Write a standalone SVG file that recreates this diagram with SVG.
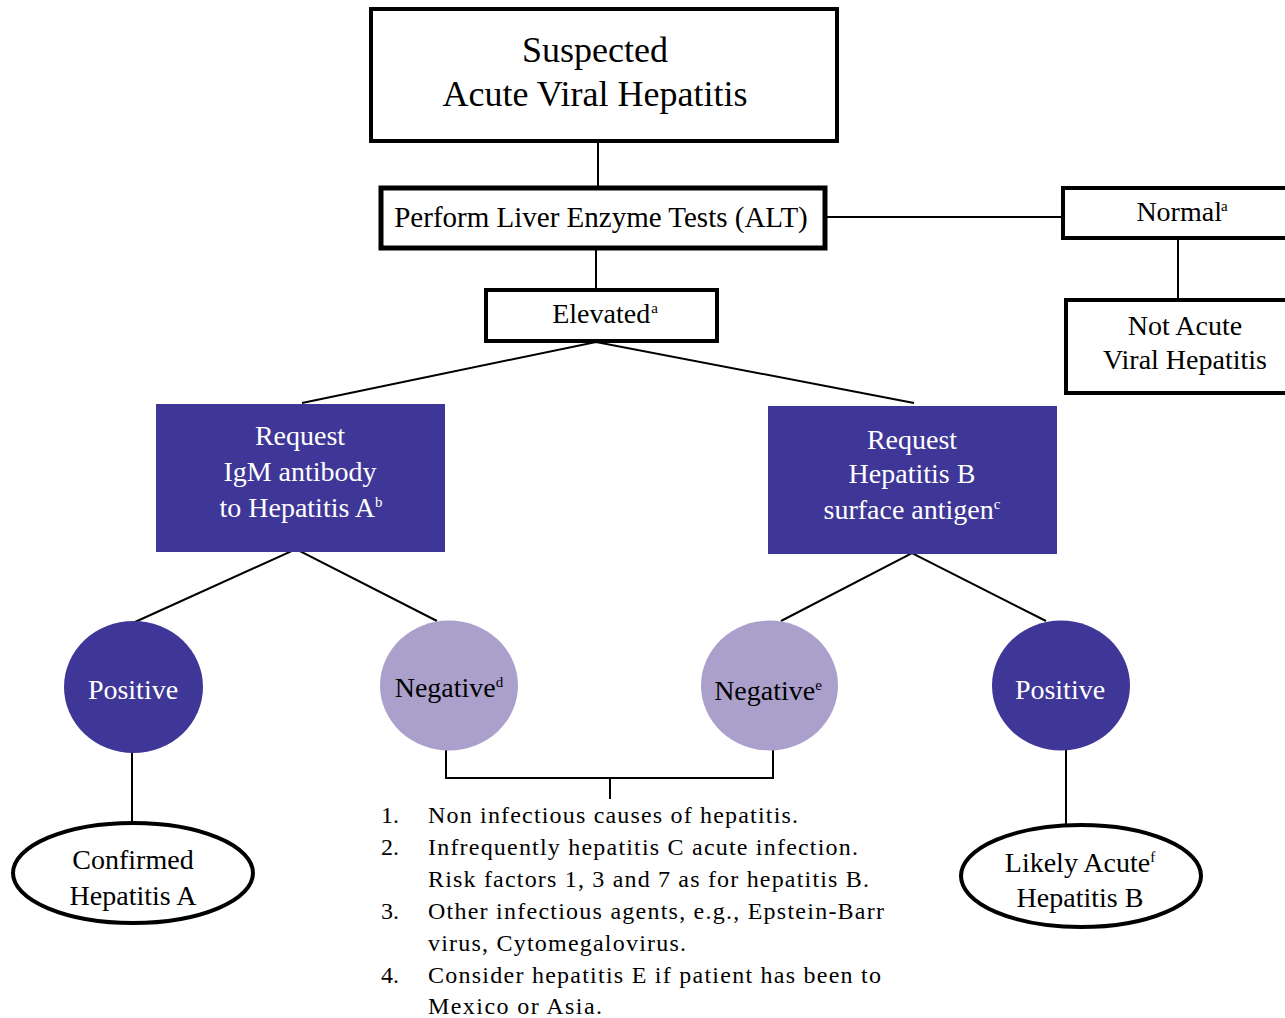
<svg xmlns="http://www.w3.org/2000/svg" width="1285" height="1018" viewBox="0 0 1285 1018">
  <style>
    text { font-family: "Liberation Serif", "Times New Roman", serif; }
    .box { fill: #ffffff; stroke: #000000; }
    .blue { fill: #3f3797; }
    .pale { fill: #aba0cc; }
    .lbl { font-size: 28px; text-anchor: middle; fill: #000000; }
    .wlbl { font-size: 28px; text-anchor: middle; fill: #ffffff; }
    .big { font-size: 36px; text-anchor: middle; fill: #000000; }
    .wide { font-size: 29px; }
    .note { font-size: 24px; fill: #000000; }
    .sup { font-size: 15px; }
    .conn { stroke: #000000; stroke-width: 2; fill: none; }
    .oval { fill: #ffffff; stroke: #000000; stroke-width: 4; }
  </style>

  <!-- connectors -->
  <g id="connectors">
    <line class="conn" x1="598" y1="142" x2="598" y2="187"/>
    <line class="conn" x1="826" y1="217" x2="1062" y2="217"/>
    <line class="conn" x1="1178" y1="239" x2="1178" y2="299"/>
    <line class="conn" x1="596" y1="249" x2="596" y2="289"/>
    <polyline class="conn" points="302,403 596,342 914,403"/>
    <polyline class="conn" points="135,622 296,549 437,621"/>
    <polyline class="conn" points="781,621 912,553 1046,621"/>
    <line class="conn" x1="132" y1="748" x2="132" y2="823"/>
    <line class="conn" x1="1066" y1="746" x2="1066" y2="826"/>
    <polyline class="conn" points="446,748 446,778 773,778 773,746"/>
    <line class="conn" x1="610" y1="778" x2="610" y2="799"/>
  </g>

  <g id="suspected">
    <rect class="box" x="371" y="9" width="466" height="132" stroke-width="4"/>
    <text class="big" x="595" y="62">Suspected</text>
    <text class="big" x="595" y="106">Acute Viral Hepatitis</text>
  </g>

  <g id="alt">
    <rect class="box" x="381" y="188" width="444" height="60" stroke-width="5"/>
    <text class="lbl wide" x="601" y="227">Perform Liver Enzyme Tests (ALT)</text>
  </g>

  <g id="normal">
    <rect class="box" x="1063" y="188" width="230" height="50" stroke-width="4"/>
    <text class="lbl" x="1182" y="221">Normal<tspan class="sup" dy="-10" dx="-1">a</tspan></text>
  </g>

  <g id="not-acute">
    <rect class="box" x="1066" y="300" width="227" height="93" stroke-width="4"/>
    <text class="lbl" x="1185" y="335">Not Acute</text>
    <text class="lbl" x="1185" y="369">Viral Hepatitis</text>
  </g>

  <g id="elevated">
    <rect class="box" x="486" y="290" width="231" height="51" stroke-width="4"/>
    <text class="lbl" x="605" y="323">Elevated<tspan class="sup" dy="-10" dx="1">a</tspan></text>
  </g>

  <g id="igm">
    <rect class="blue" x="156" y="404" width="289" height="148"/>
    <text class="wlbl" x="300" y="445">Request</text>
    <text class="wlbl" x="300" y="481">IgM antibody</text>
    <text class="wlbl" x="301" y="517">to Hepatitis A<tspan class="sup" dy="-10">b</tspan></text>
  </g>

  <g id="hbsag">
    <rect class="blue" x="768" y="406" width="289" height="148"/>
    <text class="wlbl" x="912" y="449">Request</text>
    <text class="wlbl" x="912" y="483">Hepatitis B</text>
    <text class="wlbl" x="912" y="519">surface antigen<tspan class="sup" dy="-10">c</tspan></text>
  </g>

  <g id="pos-a">
    <ellipse class="blue" cx="133.5" cy="687" rx="69.5" ry="66"/>
    <text class="wlbl" x="133" y="699">Positive</text>
  </g>

  <g id="neg-d">
    <ellipse class="pale" cx="449" cy="685.5" rx="69" ry="65"/>
    <text class="lbl" x="449" y="697">Negative<tspan class="sup" dy="-10">d</tspan></text>
  </g>

  <g id="neg-e">
    <ellipse class="pale" cx="769.5" cy="685.5" rx="68.5" ry="65"/>
    <text class="lbl" x="768" y="700">Negative<tspan class="sup" dy="-10">e</tspan></text>
  </g>

  <g id="pos-b">
    <ellipse class="blue" cx="1061" cy="685.5" rx="69" ry="65"/>
    <text class="wlbl" x="1060" y="699">Positive</text>
  </g>

  <g id="confirmed-a">
    <ellipse class="oval" cx="133" cy="873" rx="120" ry="50"/>
    <text class="lbl" x="133" y="869">Confirmed</text>
    <text class="lbl" x="133" y="905">Hepatitis A</text>
  </g>

  <g id="likely-b">
    <ellipse class="oval" cx="1081" cy="876" rx="120" ry="51"/>
    <text class="lbl" x="1080" y="872">Likely Acute<tspan class="sup" dy="-10">f</tspan></text>
    <text class="lbl" x="1080" y="907">Hepatitis B</text>
  </g>

  <g id="causes">
    <text class="note" x="381" y="823">1.</text>
    <text class="note" x="428" y="823" textLength="370" lengthAdjust="spacing">Non infectious causes of hepatitis.</text>
    <text class="note" x="381" y="855">2.</text>
    <text class="note" x="428" y="855" textLength="430" lengthAdjust="spacing">Infrequently hepatitis C acute infection.</text>
    <text class="note" x="428" y="887" textLength="441" lengthAdjust="spacing">Risk factors 1, 3 and 7 as for hepatitis B.</text>
    <text class="note" x="381" y="919">3.</text>
    <text class="note" x="428" y="919" textLength="456" lengthAdjust="spacing">Other infectious agents, e.g., Epstein-Barr</text>
    <text class="note" x="428" y="951" textLength="258" lengthAdjust="spacing">virus, Cytomegalovirus.</text>
    <text class="note" x="381" y="983">4.</text>
    <text class="note" x="428" y="983" textLength="453" lengthAdjust="spacing">Consider hepatitis E if patient has been to</text>
    <text class="note" x="428" y="1014" textLength="174" lengthAdjust="spacing">Mexico or Asia.</text>
  </g>
</svg>
